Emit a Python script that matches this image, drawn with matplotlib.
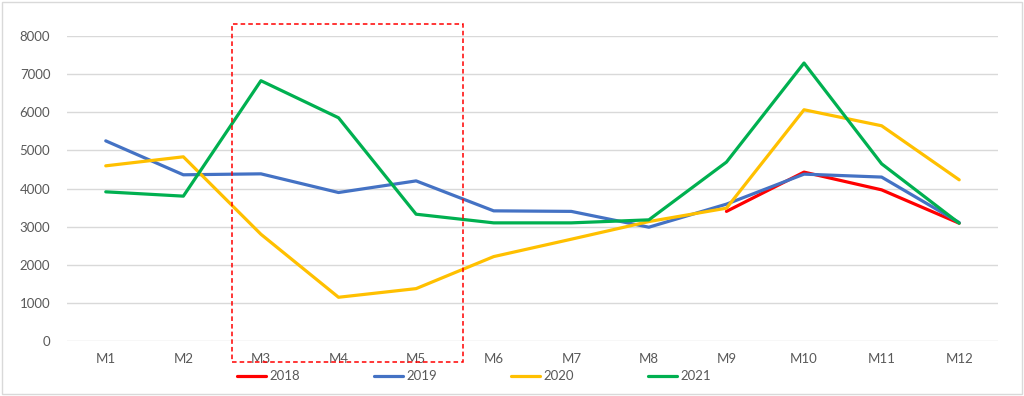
import numpy as np
import matplotlib.pyplot as plt
from matplotlib.patches import Rectangle

# --------------- data ---------------------------------------------
months = ['M1', 'M2', 'M3', 'M4', 'M5', 'M6', 'M7', 'M8', 'M9', 'M10', 'M11', 'M12']
y2018 = [np.nan, np.nan, np.nan, np.nan, np.nan, np.nan, np.nan, np.nan, 3400, 4430, 3965, 3090]
y2019 = [5250, 4360, 4385, 3895, 4200, 3414, 3400, 2985, 3590, 4377, 4300, 3107]
y2020 = [4595, 4832, 2800, 1147, 1374, 2214, 2670, 3133, 3484, 6066, 5646, 4228]
y2021 = [3913, 3800, 6828, 5856, 3326, 3099, 3099, 3178, 4693, 7292, 4648, 3090]
yticks = [0, 1000, 2000, 3000, 4000, 5000, 6000, 7000, 8000]

series = [('2018', y2018, '#ff0000'),
          ('2019', y2019, '#4472c4'),
          ('2020', y2020, '#ffc000'),
          ('2021', y2021, '#00b050')]

plt.rcParams['font.family'] = ['Lato', 'DejaVu Sans']

fig = plt.figure(figsize=(10.24, 3.96), dpi=100)
ax = fig.add_axes([0.0654, 0.1389, 0.9092, 0.7701])

x = np.arange(len(months))
for name, vals, col in series:
    ax.plot(x, vals, color=col, lw=2.3, label=name, solid_capstyle='round')

ax.set_xlim(-0.5, len(months) - 0.5)
ax.set_ylim(0, 8000)
ax.set_yticks(yticks)
ax.set_xticks(x)
ax.set_xticklabels(months)
ax.yaxis.grid(True, color='#d9d9d9', lw=1)
ax.set_axisbelow(True)
for s in ax.spines.values():
    s.set_visible(False)
ax.tick_params(length=0, labelsize=9.5, colors='#595959')
ax.tick_params(axis='y', pad=12)
ax.tick_params(axis='x', pad=9)

# highlight box around M3-M5 (dashed red)
box = Rectangle((1.63, -560), 2.98, 8875, fill=False, ec='#ff0000', lw=1.1,
                ls=(0, (3, 2)), clip_on=False, zorder=5)
ax.add_patch(box)

leg = fig.legend(loc='center left', bbox_to_anchor=(0.220, 0.05), ncol=4, frameon=False,
                 fontsize=9.5, handlelength=2.2, handletextpad=0.25, columnspacing=5.6)
for t in leg.get_texts():
    t.set_color('#595959')

# light frame around the whole chart
fig.patches.append(Rectangle((0.002, 0.004), 0.996, 0.992, transform=fig.transFigure,
                             fill=False, ec='#d9d9d9', lw=1))

fig.savefig('out.png', dpi=100)
